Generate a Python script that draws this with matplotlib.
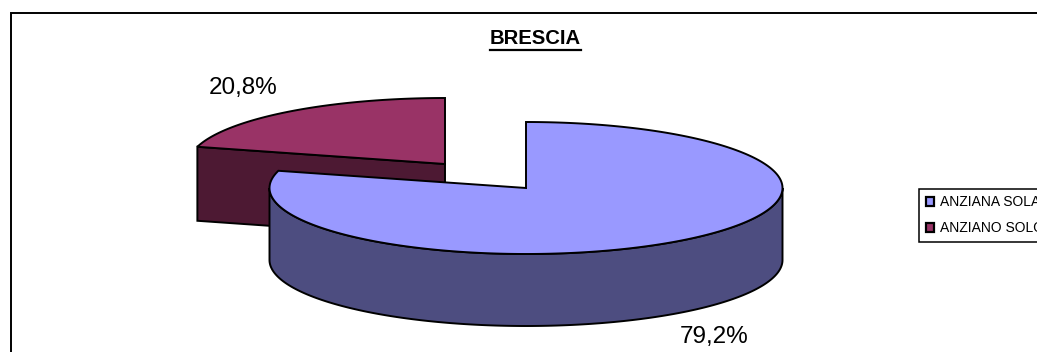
import numpy as np
import matplotlib
matplotlib.use("Agg")
import matplotlib.pyplot as plt
from matplotlib.patches import Patch

plt.rcParams['font.family'] = ['Liberation Sans', 'DejaVu Sans']

# data
categories = ["ANZIANA SOLA", "ANZIANO SOLO"]
shares = [79.2, 20.8]
share_labels = ["79,2%", "20,8%"]
title = "BRESCIA"

top_colors = ["#9999FF", "#993366"]
side_colors = ["#4D4D80", "#4D1933"]

# pie geometry, in pixels of the picture
RX = 256.5
RY = 66
DEPTH = 72
LW = 1.4


def rim(cx, cy, a0, a1):
    # angles clockwise from 12 o'clock, squashed circle
    a = np.radians(np.linspace(a0, a1, 300))
    return cx + RX * np.sin(a), cy - RY * np.cos(a)


fig = plt.figure(figsize=(10.37, 3.52), dpi=100)
ax = fig.add_axes([0, 0, 1, 1])
ax.set_xlim(0, 1037)
ax.set_ylim(352, 0)
ax.axis("off")

# chart border, cut off at right and bottom
ax.plot([11, 11, 1037], [352, 13, 13], color="black", lw=1.4, solid_joinstyle="miter")

end_blue = 360 * shares[0] / sum(shares)

# red slice (pulled out), dark cut face first
rc = (445, 164)
x, y = rim(rc[0], rc[1], end_blue, 360)
ax.fill([rc[0], x[0], x[0], rc[0]], [rc[1], y[0], y[0] + DEPTH + 2, rc[1] + DEPTH + 2],
        facecolor=side_colors[1], edgecolor="black", lw=LW, zorder=2)
ax.fill(np.r_[rc[0], x], np.r_[rc[1], y], facecolor=top_colors[1], edgecolor="black",
        lw=LW, zorder=3)

# blue slice, wall then top
bc = (526, 188)
x, y = rim(bc[0], bc[1], 90, 270)
ax.fill(np.r_[x, x[::-1]], np.r_[y, y[::-1] + DEPTH], facecolor=side_colors[0],
        edgecolor="black", lw=LW, zorder=4)
x, y = rim(bc[0], bc[1], 0, end_blue)
ax.fill(np.r_[bc[0], x], np.r_[bc[1], y], facecolor=top_colors[0], edgecolor="black",
        lw=LW, zorder=5)

# labels
ax.text(714, 336.5, share_labels[0], fontsize=17.5, ha="center", va="center", zorder=6)
ax.text(243.5, 88, share_labels[1], fontsize=17.5, ha="center", va="center", zorder=6)

# title, underline drawn by hand
ax.text(535.5, 38.5, title, fontsize=14.6, fontweight="bold", ha="center", va="center")
ax.plot([490, 581], [50, 50], color="black", lw=1.6)

# legend runs off the right edge like in the original
handles = [Patch(facecolor=c, edgecolor="black", lw=1.6) for c in top_colors]
leg = ax.legend(handles, categories, loc="upper left", bbox_to_anchor=(919, 188.5),
                bbox_transform=ax.transData, fontsize=10, fancybox=False, framealpha=1,
                edgecolor="black", borderaxespad=0, borderpad=0.48, labelspacing=0.86,
                handlelength=0.6, handleheight=0.6, handletextpad=0.45,
                labelcolor="black")
leg.get_frame().set_linewidth(1.1)

fig.savefig("out.png", dpi=100)
